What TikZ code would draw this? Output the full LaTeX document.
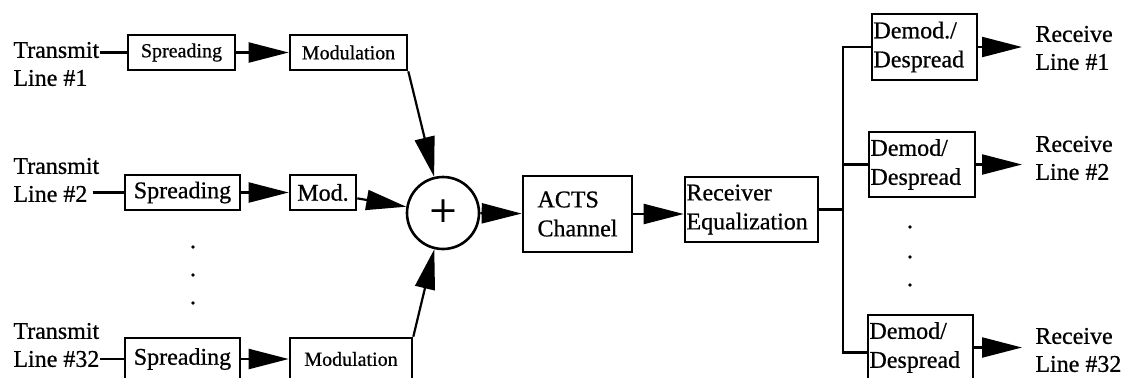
\documentclass[tikz,border=0pt]{standalone}
\usepackage{fontspec}
\setmainfont{Liberation Serif}[FakeBold=0.7]
\usetikzlibrary{arrows.meta}

\begin{document}
\begin{tikzpicture}[x=0.5pt,y=-0.5pt,
    block/.style={draw,line width=1.3pt,rectangle,inner sep=0.75pt,minimum height=17.5pt,font=\fontsize{12}{14.5}\selectfont},
    smalltext/.style={font=\fontsize{10}{12}\selectfont},
    linetext/.style={align=left,anchor=west,inner sep=0pt,font=\fontsize{12}{14}\selectfont},
    flow/.style={line width=1.1pt,-{Triangle[length=20pt,width=10pt]}},
    wire/.style={line width=1.1pt}]
    \useasboundingbox (0,0) rectangle (1125,377);
    \node[linetext] (tx1) at (13,64) {Transmit\\Line \#1};
    \node[linetext] (tx2) at (13,180) {Transmit\\Line \#2};
    \node[linetext] (tx3) at (13,345) {Transmit\\Line \#32};
    \node[block,smalltext,minimum width=53.5pt] (sp1) at (181.5,52.5) {Spreading};
    \node[block,smalltext,minimum width=58.5pt] (mod1) at (348.5,52.5) {Modulation};
    \node[block,minimum width=57.5pt] (sp2) at (182.5,192.5) {Spreading};
    \node[block,minimum width=33pt] (mod2) at (323,192.5) {Mod.};
    \node[block,minimum width=57.5pt,minimum height=21pt] (sp3) at (182.5,359) {Spreading};
    \node[block,smalltext,minimum width=61pt,minimum height=21pt] (mod3) at (351,359) {Modulation};
    \node[draw,circle,line width=1.3pt,minimum size=36pt,inner sep=0pt,font=\fontsize{24}{24}\selectfont] (sum) at (443,213) {+};
    \node[block,align=left,minimum width=54.5pt,minimum height=38pt] (acts) at (577.5,214) {ACTS\\Channel};
    \node[block,align=left,text width=65pt,minimum height=32.5pt] (recv) at (751.5,209.5) {Receiver\\Equalization};
    \node[block,align=left,text width=51pt,minimum height=33pt] (dm1) at (924.5,47) {Demod./\\Despread};
    \node[block,align=left,text width=51.5pt,minimum height=32.5pt] (dm2) at (922,164.5) {Demod/\\Despread};
    \node[block,align=left,text width=51pt,minimum height=32.5pt] (dm3) at (920.5,347.5) {Demod/\\Despread};
    \node[linetext,inner xsep=6.5pt] (rx1) at (1022,48) {Receive\\Line \#1};
    \node[linetext,inner xsep=6.5pt] (rx2) at (1022,158) {Receive\\Line \#2};
    \node[linetext,inner xsep=6.5pt] (rx3) at (1022,350) {Receive\\Line \#32};
    \coordinate (bus) at (843,208);

    \draw[wire] (sp1.west -| tx1.east) -- (sp1.west);
    \draw[wire,shorten <=-3.5pt] (sp2.west -| tx2.east) -- (sp2.west);
    \draw[wire] (sp3.west -| tx3.east) -- (sp3.west);
    \draw[flow] (sp1) -- (mod1);
    \draw[flow] (sp2) -- (mod2);
    \draw[flow] (sp3) -- (mod3);
    \draw[flow] (mod1.south east) -- (sum);
    \draw[flow] (mod2) -- (sum);
    \draw[flow] (mod3.north east) -- (sum);
    \draw[flow] (sum) -- (acts);
    \draw[flow] (acts.east) -- (acts.east -| recv.west);
    \draw[wire] (recv.east) -- (recv.east -| bus);
    \draw[wire] (dm1.west) -| (bus) |- ([yshift=-2.5pt]dm3.west);
    \draw[wire] (bus |- dm2.west) -- (dm2.west);
    \draw[flow] (dm1.east) -- (dm1.east -| rx1.west);
    \draw[flow] (dm2.east) -- (dm2.east -| rx2.west);
    \draw[flow] (dm3.east) -- (dm3.east -| rx3.west);
    \foreach \y in {247,275,303}
        \fill (193,\y) circle (0.9pt);
    \foreach \y in {227,257,285}
        \fill (910,\y) circle (0.9pt);
\end{tikzpicture}
\end{document}
